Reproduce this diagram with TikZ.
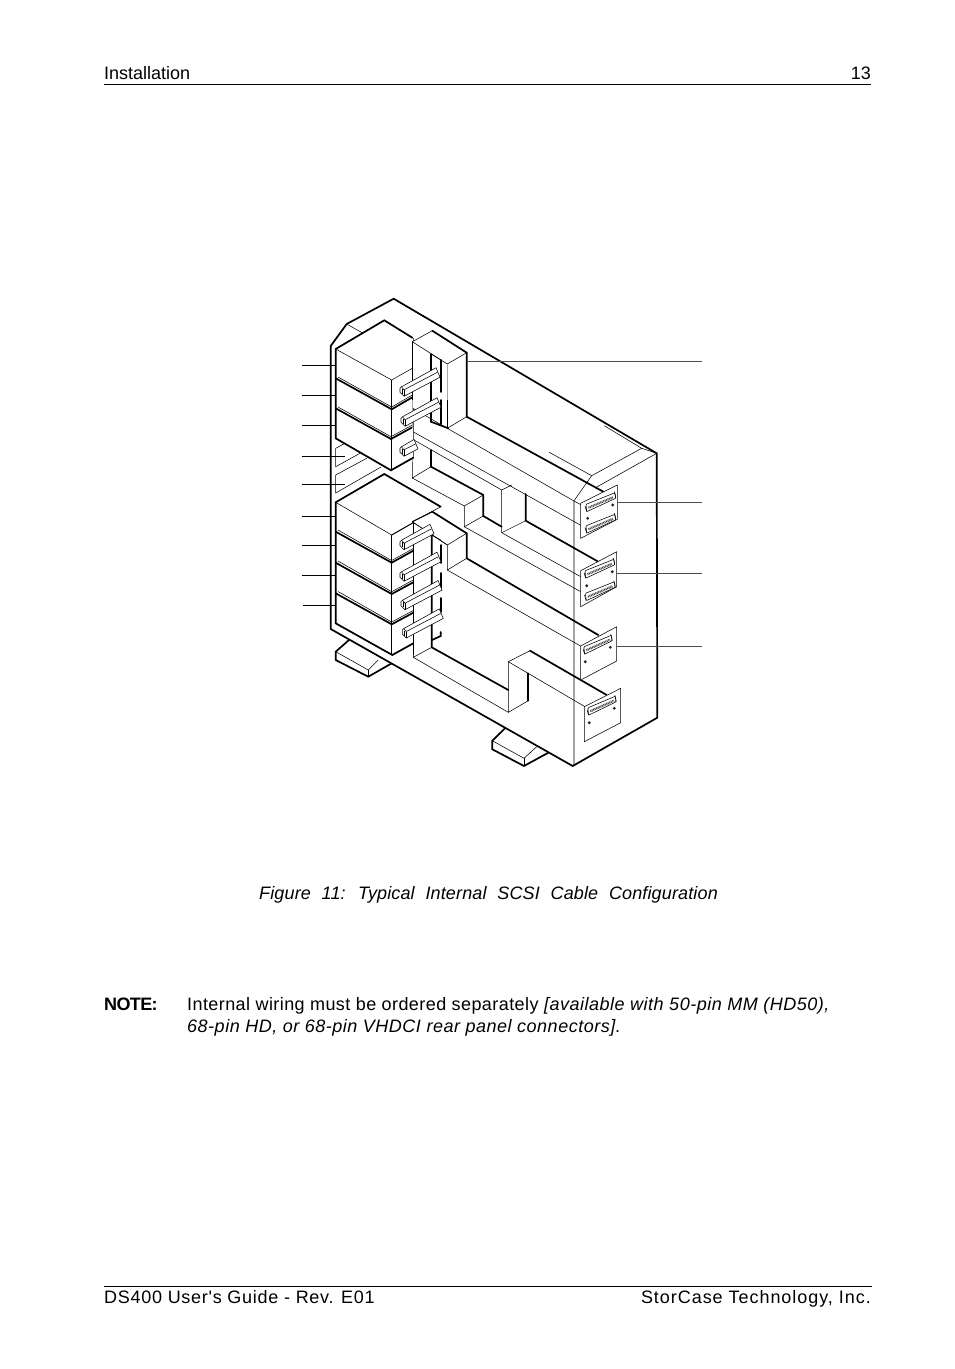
\documentclass[tikz,border=0pt]{standalone}
\usepackage{fontspec}
\setmainfont{Liberation Sans}
\newfontfamily\footl{Liberation Sans}[LetterSpace=3.95]
\newfontfamily\footr{Liberation Sans}[LetterSpace=5.3]
\newfontfamily\bodyf{Liberation Sans}[LetterSpace=2.35]
\newfontfamily\bodyi{Liberation Sans}[LetterSpace=2.85]
\newfontfamily\capf{Liberation Sans}[LetterSpace=0.8]
\newfontfamily\notef{Liberation Sans}[LetterSpace=-3.5]
\tikzset{
  thk/.style={line width=1.7pt,line join=miter,line cap=round},
  thn/.style={line width=0.55pt,line join=miter},
  pale/.style={line width=0.7pt,black!35},
  lead/.style={line width=1pt},
  leadg/.style={line width=1pt,black!70},
  rulehf/.style={line width=0.8pt},
  txt/.style={inner sep=0pt,anchor=base west,font=\fontsize{18}{20}\selectfont},
  txtr/.style={inner sep=0pt,anchor=base east,font=\fontsize{18}{20}\selectfont},
  stubpic/.pic={
    \filldraw[thn,fill=white] (0,0) -- (1.5,-1.5) -- (\stublen,-\stublen*0.53-1.5) -- (\stublen+4,-\stublen*0.53+8) -- (4,8) -- (0,4) -- cycle;
    \draw[thn] (1.5,-1.5) -- (4,1.5) -- (\stublen+1.5,-\stublen*0.53+3);
    \draw[thn] (4,1.5) -- (4,8);
    \draw[thn] (1.8,0.5) -- (1.8,5.5);
  },
  dsub/.pic={
    \filldraw[thn,fill=white,rounded corners=0.8pt] (1.5,-3.2) -- (30.5,-14.8) -- (31.2,-9.2) -- (2.2,4.2) -- cycle;
    \draw[black!70,line width=2.2pt,dash pattern=on 0.9pt off 0.7pt] (4,0.2) -- (29,-10.4);
    \draw[thn] (0.5,-1.5) -- (2.2,4.2);
    \draw[thn] (29.8,-16) -- (31.2,-9.2);
  },
  hole/.style={circle,fill=black!85,inner sep=0pt,minimum size=3.2pt}
}
\def\stublen{36}
\begin{document}
\begin{tikzpicture}[x=1pt,y=-1pt]
\useasboundingbox (0,0) rectangle (954,1369);
\fill[white] (0,0) rectangle (954,1369);

% header and footer
\node[txt] (hl) at (104,79) {Installation};
\node[txtr] (hr) at (871,79) {13};
\draw[rulehf] (104,84.5) -- (871,84.5);
\draw[rulehf] (104,1286.5) -- (872,1286.5);
\node[txt] (fl) at (104,1303) {\footl DS400 User's Guide - Rev. E01};
\node[txtr] (fr) at (871,1303) {\footr StorCase Technology, Inc.};

% caption and note
\node[txt] (cap) at (259,899) {\capf\itshape\spaceskip=0.6em Figure 11: Typical Internal SCSI Cable Configuration};
\node[txt] (nt) at (104,1010) {\notef\bfseries NOTE:};
\node[txt] (b1) at (187,1010) {\bodyf Internal wiring must be ordered separately {\bodyi\itshape [available with 50-pin MM (HD50),}};
\node[txt] (b2) at (187,1032) {\bodyi\itshape 68-pin HD, or 68-pin VHDCI rear panel connectors].};

% feet
\draw[thk] (349,640) -- (335.7,651.7) -- (335.7,660) -- (368.3,676.7) -- (391.7,663.3);
\draw[thn] (335.7,651.7) -- (368.3,670) -- (378.3,660);
\draw[thn] (368.3,670) -- (368.3,676.7);
\draw[thk] (505,728.3) -- (492.3,740.7) -- (492.3,749.3) -- (524,766) -- (548.3,752.7);
\draw[thn] (492.3,740.7) -- (524,758.3) -- (536.7,746.7);
\draw[thn] (524,758.3) -- (524,766);

% case
\filldraw[thk,fill=white] (330.7,346) -- (346.7,324) -- (393.7,298.7) -- (656.7,453.3) -- (657.3,717.7) -- (572.7,766) -- (330.7,629) -- cycle;
\draw[thn] (346.7,324) -- (386.7,346.7);
\draw[thn] (397,301) -- (426.7,318.3);
\draw[thn] (604.3,425.7) -- (641.7,448.3) -- (656.7,453.3);
\draw[thn] (641.7,448.3) -- (591.7,475.7) -- (574,500.7) -- (574,766);
\draw[thn] (549.3,452.3) -- (591.7,475.7);
\draw[thn] (656.7,453.3) -- (595,488);

% bay shelves
\draw[thn] (345,443.3) -- (335.7,448.3) -- (335.7,466.7) -- (360,453.3);
\draw[thn] (366.7,458.3) -- (335.7,475) -- (335.7,493) -- (381,467);

% cables, upper set
\draw[thk] (466.7,416.7) -- (603.3,491.7);
\draw[thn] (447.3,428.3) -- (574,501) -- (585,507);
\draw[thn] (413,431.7) -- (583.3,526.7);
\draw[thn] (414,440) -- (501.7,490);
\draw[thn] (501.7,490) -- (501.7,532.7) -- (580.7,576.7);
\draw[thn] (501.7,490) -- (511.7,485);
\draw[thk] (525.7,494) -- (525.7,520.7) -- (598.3,561.7);
\draw[thn] (525.7,520.7) -- (501.7,532.7);
\draw[thk] (431,450) -- (431,466.7) -- (483.3,495) -- (483.3,516) -- (501.7,526.7);
\draw[thn] (483.3,495) -- (464.3,506) -- (464.3,526.7) -- (483.3,516);
\draw[thn] (464.3,526.7) -- (580.7,591.7);
\draw[thn] (412.3,478) -- (464.3,506);
\draw[pale] (412.3,427) -- (412.3,462);
\draw[thn] (412.3,462) -- (412.3,478) -- (431,466.7);

% cables, lower set
\draw[thk] (466.7,558.3) -- (598.3,635);
\draw[thn] (447.3,570) -- (581.7,646.7);
\draw[thk] (431.7,535) -- (431.7,647.3) -- (508.3,690);
\draw[thn] (413.3,522) -- (413.3,657.3) -- (431.7,647.3);
\draw[thn] (413.3,657.3) -- (508.3,712.3);
\draw[thn] (508.3,661.7) -- (508.3,712.3) -- (528.3,700.7);
\draw[thk] (528.3,673.3) -- (528.3,700.7);
\draw[thk] (530,650.7) -- (606.7,695);
\draw[thn] (508.3,661.7) -- (530,650.7);
\draw[thn] (508.3,661.7) -- (585,706.7);
\draw[thk] (440.7,545) -- (440.7,563);
\draw[thk] (440.7,573) -- (440.7,590);
\draw[thk] (440.7,598) -- (440.7,612);
\draw[thk] (440.7,632) -- (440.7,636) -- (432,640);

% upper stack
\filldraw[thn,fill=white] (335.7,349) -- (384.3,320.3) -- (413.3,338.3) -- (413.3,457.7) -- (391,470.3) -- (335.7,438.3) -- cycle;
\draw[thk] (412.3,337.7) -- (384.3,320.3) -- (335.7,349) -- (335.7,438.3) -- (391,470.3) -- (413.3,457.7);
\draw[thn] (335.7,349) -- (391.7,380) -- (412.3,368.3);
\draw[thn] (391.7,380) -- (391.7,470.3);
\draw[thk] (335.7,378.3) -- (391.7,409.3) -- (412.3,397.3);
\draw[thn] (338,377) -- (391.7,407) -- (412.3,395);
\draw[thk] (335.7,408.3) -- (391,439) -- (412.3,427.3);
\draw[thn] (338,407) -- (391,436.7) -- (412.3,425);

% upper bracket
\filldraw[thn,fill=white] (412.3,341.7) -- (432.3,330.7) -- (466.7,352.7) -- (466.7,416.7) -- (447.3,428.3) -- (412.3,408) -- cycle;
\draw[thk] (432.3,330.7) -- (466.7,352.7) -- (466.7,416.7);
\draw[thn] (412.3,341.7) -- (447.3,364) -- (466.7,352.7);
\draw[pale] (447.3,364) -- (447.3,400);
\draw[thn] (447.3,400) -- (447.3,428.3);
\draw[pale] (412.3,342) -- (412.3,428);
\draw[thn] (412.3,341.7) -- (412.3,400);
\draw[thk] (431,354) -- (431,421.7) -- (448.3,428.3);
\draw[thk] (441,360) -- (441,392);
\draw[thk] (441,400) -- (441,424);
\draw[thn] (431,354) -- (441,360);
\draw[thk] (431,381) -- (440,376);
\draw[thk] (431,411) -- (440,406);

% lower stack
\filldraw[thn,fill=white] (335.7,502.3) -- (384.3,474) -- (440.7,506.7) -- (413.3,522) -- (413.3,643.3) -- (392.3,655) -- (335.7,623.3) -- cycle;
\draw[thk] (440.7,506.7) -- (384.3,474) -- (335.7,502.3) -- (335.7,623.3) -- (392.3,655) -- (413.3,643.3);
\draw[thn] (335.7,502.3) -- (391.7,535);
\draw[line width=1pt] (391.7,535) -- (432.3,511.7);
\draw[thn] (391.7,535) -- (391.7,655);
\draw[thk] (335.7,531.7) -- (391.7,562.7) -- (413.3,550.7);
\draw[thn] (338,530) -- (391.7,560.5) -- (413.3,548.5);
\draw[thk] (335.7,562.7) -- (391.7,594) -- (413.3,582.3);
\draw[thn] (338,561) -- (391.7,591.7) -- (413.3,580);
\draw[thk] (335.7,593.3) -- (391.7,624.3) -- (413.3,612.7);
\draw[thn] (338,591.5) -- (391.7,622) -- (413.3,610.5);

% lower bracket
\filldraw[thn,fill=white] (412.3,521.7) -- (432.3,511.7) -- (466.7,533.3) -- (466.7,558.3) -- (447.3,570) -- (447.3,545) -- cycle;
\draw[thk] (432.3,511.7) -- (466.7,533.3) -- (466.7,558.3);
\draw[thn] (412.3,521.7) -- (447.3,545) -- (466.7,533.3);
\draw[thn] (431.7,535) -- (440.7,540);
\draw[thn] (413.3,521.7) -- (413.3,655);
\draw[line width=1pt] (412.3,521.7) -- (432.3,511.7);

% drive connector stubs
\def\stublen{36}\pic at (400,388.3) {stubpic};
\pic at (401,418.3) {stubpic};
\def\stublen{14}\pic at (400,448.3) {stubpic};
\def\stublen{30}\pic at (400,541.7) {stubpic};
\def\stublen{37}\pic at (400,573.3) {stubpic};
\pic at (401,601.7) {stubpic};
\pic at (402.3,630) {stubpic};

% rear plates
\filldraw[thn,fill=white] (580.7,503.3) -- (617.3,485) -- (617.3,519.3) -- (580.7,538.3) -- cycle;
\filldraw[thn,fill=white] (580.7,570.7) -- (616.7,551.7) -- (616.7,586.7) -- (580.7,606.7) -- cycle;
\filldraw[thn,fill=white] (580.7,646) -- (616.7,626.7) -- (616.7,661) -- (580.7,680) -- cycle;
\filldraw[thn,fill=white] (584.3,706.7) -- (620.7,688.3) -- (620.7,722.7) -- (584.3,741.7) -- cycle;
\pic at (584.5,507.5) {dsub};
\pic at (584.5,529) {dsub};
\pic at (583.5,574) {dsub};
\pic at (584,596.5) {dsub};
\pic[xscale=0.95] at (582.5,650) {dsub};
\pic[xscale=0.95] at (586.5,711) {dsub};
\node[hole] (h1) at (612.7,505) {};
\node[hole] (h2) at (587.7,518.3) {};
\node[hole] (h3) at (612.3,571.7) {};
\node[hole] (h4) at (586.7,585.7) {};
\node[hole] (h5) at (610.3,647.3) {};
\node[hole] (h6) at (585.3,661.7) {};
\node[hole] (h7) at (614.3,708.3) {};
\node[hole] (h8) at (589.3,722.7) {};

% leaders
\coordinate (la1) at (302,365.5); \coordinate (lb1) at (336,365.5);
\coordinate (la2) at (302,395.5); \coordinate (lb2) at (336,395.5);
\coordinate (la3) at (302,425.5); \coordinate (lb3) at (336,425.5);
\coordinate (la4) at (302,456.5); \coordinate (lb4) at (345,456.5);
\coordinate (la5) at (302,484.5); \coordinate (lb5) at (345,484.5);
\coordinate (la6) at (302,516.5); \coordinate (lb6) at (336,516.5);
\coordinate (la7) at (302,545.5); \coordinate (lb7) at (336,545.5);
\coordinate (la8) at (302,575.5); \coordinate (lb8) at (336,575.5);
\coordinate (la9) at (303,605.5); \coordinate (lb9) at (336,605.5);
\foreach \i in {1,...,9} \draw[lead] (la\i) -- (lb\i);
\coordinate (ra1) at (467,361); \coordinate (rb1) at (702,361);
\coordinate (ra2) at (618,502.5); \coordinate (rb2) at (702,502.5);
\coordinate (ra3) at (617,573.5); \coordinate (rb3) at (702,573.5);
\coordinate (ra4) at (617,646); \coordinate (rb4) at (702,646);
\foreach \i in {1,...,4} \draw[leadg] (ra\i) -- (rb\i);
\end{tikzpicture}
\end{document}
